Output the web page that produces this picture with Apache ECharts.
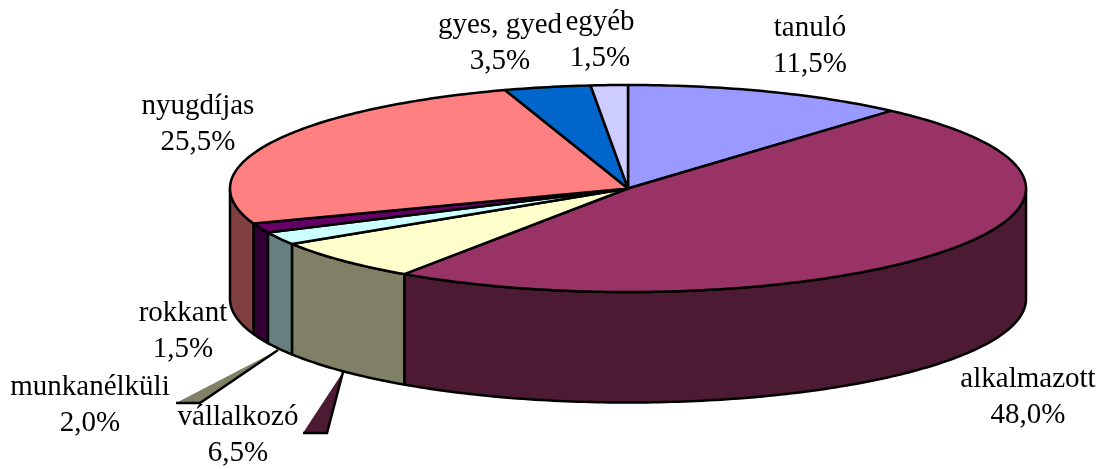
<!DOCTYPE html>
<html>
<head>
<meta charset="utf-8">
<style>
  html, body { margin: 0; padding: 0; background: #fff; }
  #chart { width: 1105px; height: 469px; }
</style>
<script src="https://cdn.jsdelivr.net/npm/echarts@6/dist/echarts.min.js"></script>
</head>
<body>
<div id="chart"></div>
<script>
const categories = ['tanuló', 'alkalmazott', 'vállalkozó', 'munkanélküli', 'rokkant', 'nyugdíjas', 'gyes, gyed', 'egyéb']
const shares = [11.5, 48.0, 6.5, 2.0, 1.5, 25.5, 3.5, 1.5]
const topColors = ['#9999ff', '#993366', '#ffffcc', '#ccffff', '#660066', '#ff8080', '#0066cc', '#ccccff']
const sideColors = ['#4d4d80', '#4d1a33', '#808066', '#668080', '#330033', '#804040', '#003366', '#666680']

// layout of the tilted disc, in pixels
const cx = 628, cy = 188.5, rx = 398, ry = 103.5, depth = 110.5
const labelCenters = [[810, 46], [1028, 397], [238, 435], [90, 405], [183, 331], [198, 124], [500, 43], [600, 40]]
// wedge shaped leaders, keyed by category index
const leaders = {
  1: [[343, 372], [327, 433], [303, 433]],
  2: [[278, 350], [200, 403], [176, 403]]
}
const leaderColors = { 1: '#4d1a33', 2: '#808066' }

const total = shares.reduce((a, b) => a + b, 0)
let running = 0
const seriesData = shares.map(v => {
  const row = [v, running]
  running += v
  return row
})

function rim(pct, dy) {
  const a = pct / total * Math.PI * 2
  return [cx + rx * Math.sin(a), cy - ry * Math.cos(a) + dy]
}

function arc(from, to, dy) {
  const pts = []
  const steps = Math.max(2, Math.ceil((to - from) * 4))
  for (let i = 0; i <= steps; i++) {
    pts.push(rim(from + (to - from) * i / steps, dy))
  }
  return pts
}

function renderSlice(params, api) {
  const i = params.dataIndex
  const value = api.value(0)
  const start = api.value(1)
  const end = start + value
  const stroke = { stroke: '#000', lineWidth: 2.5, lineJoin: 'round' }
  const children = []

  // the wall is only seen on the front half of the disc
  const wallFrom = Math.max(start, total * 0.25)
  const wallTo = Math.min(end, total * 0.75)
  if (wallTo > wallFrom) {
    children.push({
      type: 'polygon',
      z2: 1,
      shape: { points: arc(wallFrom, wallTo, 0).concat(arc(wallFrom, wallTo, depth).reverse()) },
      style: Object.assign({ fill: sideColors[i] }, stroke)
    })
  }

  children.push({
    type: 'polygon',
    z2: 2,
    shape: { points: [[cx, cy]].concat(arc(start, end, 0)) },
    style: Object.assign({ fill: topColors[i] }, stroke)
  })

  if (leaders[i]) {
    children.push({
      type: 'polygon',
      z2: 3,
      shape: { points: leaders[i] },
      style: { fill: leaderColors[i] }
    })
    children.push({
      type: 'polyline',
      z2: 3,
      shape: { points: leaders[i] },
      style: { fill: null, stroke: '#000', lineWidth: 2.5 }
    })
  }

  children.push({
    type: 'text',
    z2: 4,
    style: {
      x: labelCenters[i][0],
      y: labelCenters[i][1],
      text: categories[i] + '\n' + value.toFixed(1).replace('.', ',') + '%',
      fill: '#000',
      font: '29px "Liberation Serif"',
      lineHeight: 36,
      align: 'center',
      verticalAlign: 'middle'
    }
  })

  return { type: 'group', children: children }
}

const myChart = echarts.init(document.getElementById('chart'))
myChart.setOption({
  animation: false,
  backgroundColor: '#fff',
  series: [{
    type: 'custom',
    coordinateSystem: 'none',
    renderItem: renderSlice,
    data: seriesData
  }]
})
</script>
</body>
</html>
